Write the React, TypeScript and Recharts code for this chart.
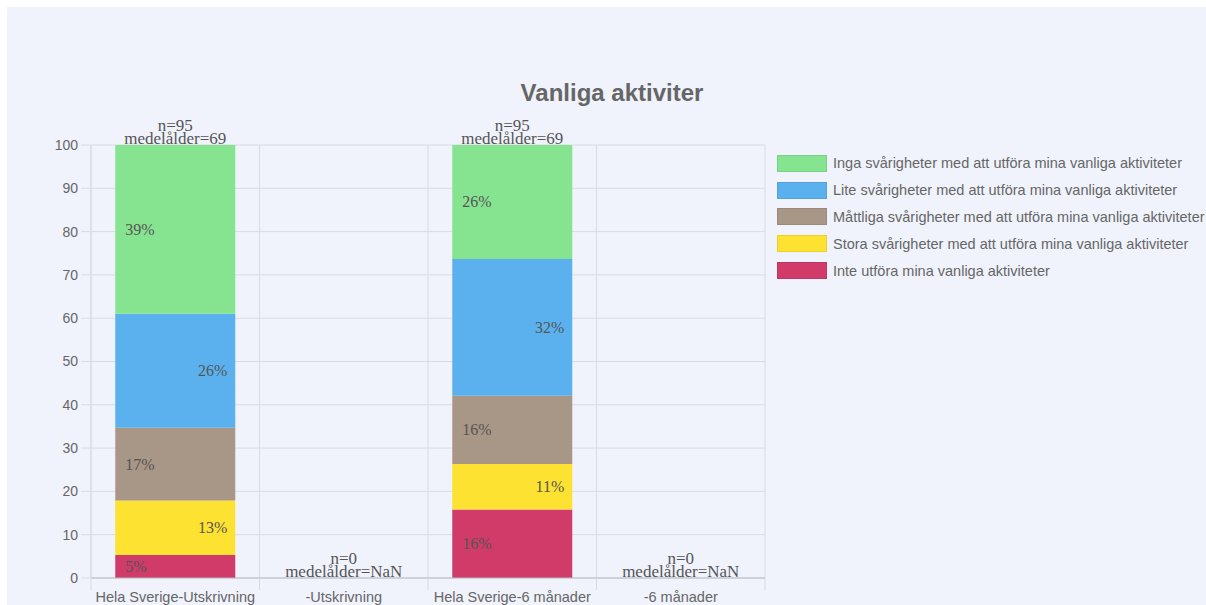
import React from "react";
import { BarChart, Bar, XAxis, YAxis, CartesianGrid, LabelList, Legend } from "recharts";

const categories = ["Hela Sverige-Utskrivning", "-Utskrivning", "Hela Sverige-6 månader", "-6 månader"];
const nValues = [95, 0, 95, 0];
const medelalder = ["69", "NaN", "69", "NaN"];

// percentages, bottom to top of the stack
const inte = [5.3, 0, 15.8, 0];
const stora = [12.6, 0, 10.5, 0];
const mattliga = [16.8, 0, 15.8, 0];
const lite = [26.3, 0, 31.6, 0];
const inga = [39.0, 0, 26.3, 0];

const seriesKeys = ["inte", "stora", "mattliga", "lite", "inga"];
const seriesNames = [
  "Inte utföra mina vanliga aktiviteter",
  "Stora svårigheter med att utföra mina vanliga aktiviteter",
  "Måttliga svårigheter med att utföra mina vanliga aktiviteter",
  "Lite svårigheter med att utföra mina vanliga aktiviteter",
  "Inga svårigheter med att utföra mina vanliga aktiviteter",
];
const seriesColors = ["#d03b6a", "#fde232", "#a89686", "#5ab1ee", "#86e38f"];
const labelSides = ["left", "right", "left", "right", "left"];
const yTicks = [0, 10, 20, 30, 40, 50, 60, 70, 80, 90, 100];

const data = categories.map((name, i) => ({
  name,
  n: nValues[i],
  age: medelalder[i],
  inte: inte[i],
  stora: stora[i],
  mattliga: mattliga[i],
  lite: lite[i],
  inga: inga[i],
}));

const GRID = "#d9dbe4";
const TEXT = "#666666";
const LABEL = "#555555";
const SANS = "'Liberation Sans', Arial, Helvetica, sans-serif";
const SERIF = "'Liberation Serif', 'Times New Roman', serif";
const TOP_FS = 17;

const makePctLabel = (side: string) => (props: any) => {
  const { x, y, width, height, value } = props;
  if (!value) return null;
  const tx = side === "left" ? x + 10 : x + width - 8;
  return (
    <text
      x={tx}
      y={y + height / 2}
      textAnchor={side === "left" ? "start" : "end"}
      dominantBaseline="central"
      fontFamily={SERIF}
      fontSize={16}
      fill={LABEL}
    >
      {Math.round(value)}%
    </text>
  );
};

const NLabel = (props: any) => {
  const { x, y, width, value } = props;
  return (
    <text x={x + width / 2} y={y - 14} textAnchor="middle" fontFamily={SERIF} fontSize={TOP_FS} fill={LABEL}>
      n={value}
    </text>
  );
};

const AgeLabel = (props: any) => {
  const { x, y, width, value } = props;
  return (
    <text x={x + width / 2} y={y - 1} textAnchor="middle" fontFamily={SERIF} fontSize={TOP_FS} fill={LABEL}>
      medelålder={value}
    </text>
  );
};

const XTick = (props: any) => {
  const { x, y, width, visibleTicksCount, index, payload } = props;
  const band = width / visibleTicksCount;
  const empty = nValues[index] === 0;
  return (
    <g>
      <line x1={x - band / 2} x2={x - band / 2} y1={y} y2={y + 12} stroke={GRID} />
      {index === visibleTicksCount - 1 && (
        <line x1={x + band / 2} x2={x + band / 2} y1={y} y2={y + 12} stroke={GRID} />
      )}
      {empty && (
        <g>
          <text x={x} y={y - 14} textAnchor="middle" fontFamily={SERIF} fontSize={TOP_FS} fill={LABEL}>
            n={nValues[index]}
          </text>
          <text x={x} y={y - 1} textAnchor="middle" fontFamily={SERIF} fontSize={TOP_FS} fill={LABEL}>
            medelålder={medelalder[index]}
          </text>
        </g>
      )}
      <text x={x} y={y + 24} textAnchor="middle" fontFamily={SANS} fontSize={14.5} fill={TEXT}>
        {payload.value}
      </text>
    </g>
  );
};

const LegendContent = () => {
  const order = [4, 3, 2, 1, 0];
  return (
    <div style={{ fontFamily: SANS, fontSize: 14.5, color: TEXT }}>
      {order.map((i) => (
        <div key={i} style={{ display: "flex", alignItems: "center", height: 26.8 }}>
          <div
            style={{
              width: 48,
              height: 15,
              background: seriesColors[i],
              border: "1px solid rgba(0,0,0,0.08)",
              marginRight: 6,
              flexShrink: 0,
            }}
          />
          <span style={{ whiteSpace: "nowrap" }}>{seriesNames[i]}</span>
        </div>
      ))}
    </div>
  );
};

export default function App() {
  return (
    <div style={{ position: "absolute", left: 0, top: 0, width: 1206, height: 605, background: "#ffffff" }}>
      <div
        style={{
          position: "absolute",
          left: 7,
          top: 7,
          width: 1199,
          height: 598,
          background: "#f0f3fc",
        }}
      >
        <div
          style={{
            position: "absolute",
            left: 0,
            width: 1210,
            top: 72,
            textAlign: "center",
            fontFamily: SANS,
            fontWeight: "bold",
            fontSize: 24,
            color: TEXT,
          }}
        >
          Vanliga aktiviter
        </div>
        <BarChart
          width={1199}
          height={598}
          data={data}
          margin={{ top: 138, right: 441, left: 44, bottom: 2 }}
          barCategoryGap="14.4%"
        >
          <CartesianGrid
            stroke={GRID}
            verticalCoordinatesGenerator={({ offset }: any) =>
              [0, 1, 2, 3, 4].map((i) => offset.left + (i * offset.width) / 4)
            }
          />
          <XAxis
            dataKey="name"
            height={25}
            tickSize={0}
            tickMargin={0}
            interval={0}
            axisLine={{ stroke: "#b9bbc4" }}
            tickLine={false}
            tick={<XTick />}
          />
          <YAxis
            width={40}
            domain={[0, 100]}
            ticks={yTicks}
            tickSize={10}
            tickMargin={3}
            axisLine={{ stroke: GRID }}
            tickLine={{ stroke: GRID }}
            tick={{ fill: TEXT, fontSize: 14, fontFamily: SANS }}
          />
          <Legend
            layout="vertical"
            align="center"
            verticalAlign="middle"
            wrapperStyle={{ left: 770, top: 143, width: 430 }}
            content={<LegendContent />}
          />
          {seriesKeys.map((k, i) => (
            <Bar key={k} dataKey={k} stackId="a" fill={seriesColors[i]} isAnimationActive={false}>
              <LabelList dataKey={k} content={makePctLabel(labelSides[i])} />
              {k === "inga" && <LabelList dataKey="n" content={<NLabel />} />}
              {k === "inga" && <LabelList dataKey="age" content={<AgeLabel />} />}
            </Bar>
          ))}
        </BarChart>
      </div>
    </div>
  );
}
